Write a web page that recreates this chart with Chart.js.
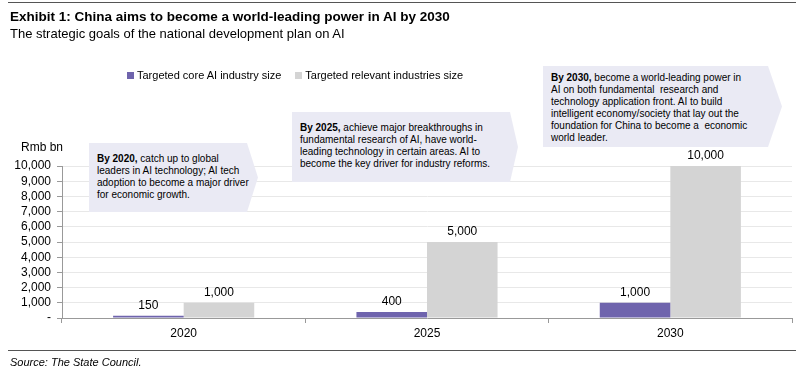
<!DOCTYPE html>
<html><head><meta charset="utf-8">
<script src="https://cdn.jsdelivr.net/npm/chart.js@4/dist/chart.umd.min.js"></script>
<style>
html,body{margin:0;padding:0;background:#fff;}
#wrap{position:relative;width:802px;height:381px;overflow:hidden;font-family:"Liberation Sans",Arial,sans-serif;color:#000;}
#c{position:absolute;left:0;top:0;}
.rule{position:absolute;left:8px;width:788px;background:#555;height:1px;}
.abs{position:absolute;white-space:nowrap;}
#title{left:10px;top:9px;font-family:"Liberation Sans Narrow","Liberation Sans",Arial,sans-serif;font-weight:bold;font-size:13.5px;}
#subtitle{left:10px;top:26px;font-size:13px;}
#legend{left:127px;top:69px;font-size:11px;display:flex;align-items:center;}
#legend .item{display:flex;align-items:center;margin-right:14px;}
#legend .sw{width:7px;height:7px;margin-right:3px;}
#unit{left:21px;top:140px;font-size:12px;}
#source{left:10px;top:356px;font-size:11px;font-style:italic;}
.callout{position:absolute;background:#eaeaf4;font-size:10px;line-height:12px;box-sizing:border-box;white-space:nowrap;}
</style>
</head><body>
<div id="wrap">
<canvas id="c" width="802" height="381"></canvas>
<div class="rule" style="top:2px"></div>
<div id="title" class="abs">Exhibit 1: China aims to become a world-leading power in AI by 2030</div>
<div id="subtitle" class="abs">The strategic goals of the national development plan on AI</div>
<div id="legend" class="abs"></div>
<div id="unit" class="abs">Rmb bn</div>
<div class="callout" id="cb1" style="left:89px;top:143px;width:169px;height:69px;padding:10px 0 0 8px;clip-path:polygon(0 0,158px 0,100% 50%,158px 100%,0 100%);"><b>By 2020,</b> catch up to global<br>leaders in AI technology; AI tech<br>adoption to become a major driver<br>for economic growth.</div>
<div class="callout" id="cb2" style="left:292px;top:112px;width:226px;height:70px;padding:10px 0 0 8px;clip-path:polygon(0 0,218px 0,100% 50%,218px 100%,0 100%);"><b>By 2025,</b> achieve major breakthroughs in<br>fundamental research of AI, have world-<br>leading technology in certain areas. AI to<br>become the key driver for industry reforms.</div>
<div class="callout" id="cb3" style="left:543px;top:66px;width:239px;height:81px;padding:6px 0 0 8px;clip-path:polygon(0 0,225px 0,100% 50%,225px 100%,0 100%);"><b>By 2030,</b> become a world-leading power in<br>AI on both fundamental&nbsp; research and<br>technology application front. AI to build<br>intelligent economy/society that lay out the<br>foundation for China to become a&nbsp; economic<br>world leader.</div>
<div class="rule" style="top:350px"></div>
<div id="source" class="abs">Source: The State Council.</div>
</div>
<script>
const categories = ['2020', '2025', '2030'];
const seriesNames = ['Targeted core AI industry size', 'Targeted relevant industries size'];
const coreValues = [150, 400, 1000];
const relevantValues = [1000, 5000, 10000];
const seriesColors = ['#6f64ad', '#d4d4d4'];
const yMin = 0, yMax = 10000, yStep = 1000;

const fmt = v => v === 0 ? '-' : v.toLocaleString('en-US');

const legendEl = document.getElementById('legend');
seriesNames.forEach((n, i) => {
  const it = document.createElement('div'); it.className = 'item';
  const sw = document.createElement('div'); sw.className = 'sw'; sw.style.background = seriesColors[i];
  const tx = document.createElement('span'); tx.textContent = n;
  it.appendChild(sw); it.appendChild(tx); legendEl.appendChild(it);
});

const valueLabels = {
  id: 'valueLabels',
  afterDatasetsDraw(chart) {
    const ctx = chart.ctx;
    ctx.save();
    ctx.font = '12px "Liberation Sans", Arial, sans-serif';
    ctx.fillStyle = '#000';
    ctx.textAlign = 'center';
    ctx.textBaseline = 'bottom';
    chart.data.datasets.forEach((ds, i) => {
      chart.getDatasetMeta(i).data.forEach((bar, j) => {
        ctx.fillText(fmt(ds.data[j]), bar.x, bar.y - 4);
      });
    });
    ctx.restore();
  }
};

new Chart(document.getElementById('c'), {
  type: 'bar',
  data: {
    labels: categories,
    datasets: [
      { label: seriesNames[0], data: coreValues, backgroundColor: seriesColors[0], categoryPercentage: 0.58, barPercentage: 1.0 },
      { label: seriesNames[1], data: relevantValues, backgroundColor: seriesColors[1], categoryPercentage: 0.58, barPercentage: 1.0 }
    ]
  },
  options: {
    responsive: false,
    animation: false,
    devicePixelRatio: 1,
    layout: { padding: { top: 166, left: 0, right: 10, bottom: 38 } },
    plugins: { legend: { display: false }, tooltip: { enabled: false } },
    scales: {
      x: {
        grid: { display: true, drawOnChartArea: false, drawTicks: true, tickLength: 5, tickColor: '#999', offset: true },
        border: { color: '#999' },
        ticks: { color: '#000', font: { size: 12, family: '"Liberation Sans", Arial, sans-serif' }, padding: 3 },
        afterFit: s => { s.height = 25; }
      },
      y: {
        min: yMin, max: yMax,
        grid: { color: '#e8e8e8', tickColor: '#999', tickLength: 5 },
        border: { color: '#999' },
        ticks: { stepSize: yStep, autoSkip: false, color: '#000', padding: 6, font: { size: 12, family: '"Liberation Sans", Arial, sans-serif' }, callback: v => fmt(v) },
        afterFit: s => { s.width = 62; }
      }
    }
  },
  plugins: [valueLabels]
});
</script>
</body></html>
